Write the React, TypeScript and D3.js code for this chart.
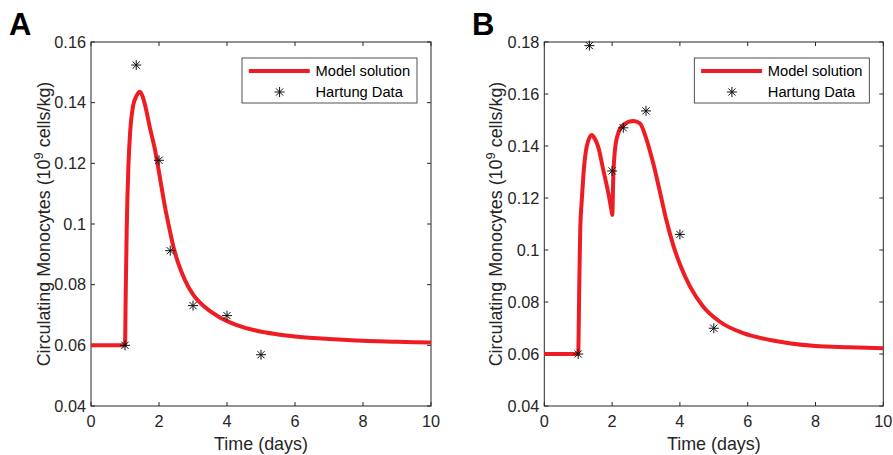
import React from "react";
import * as d3 from "d3";

// ---------- data ----------
const xTicks = [0, 2, 4, 6, 8, 10];
const yTicksA = [0.04, 0.06, 0.08, 0.1, 0.12, 0.14, 0.16];
const yTicksB = [0.04, 0.06, 0.08, 0.1, 0.12, 0.14, 0.16, 0.18];

const modelTimeA = [0, 1.0, 1.02, 1.05, 1.1, 1.15, 1.24, 1.34, 1.44, 1.52, 1.59, 1.735, 1.88, 1.98, 2.08, 2.18, 2.3, 2.42, 2.57, 2.76, 3.01, 3.35, 3.79, 4.29, 4.87, 5.5, 6.0, 7.0, 8.0, 9.0, 10];
const modelValueA = [0.06, 0.06, 0.076, 0.098, 0.119, 0.13, 0.139, 0.1422, 0.1436, 0.142, 0.1392, 0.1316, 0.1246, 0.1184, 0.1118, 0.1054, 0.0988, 0.0927, 0.0869, 0.0816, 0.0766, 0.0726, 0.0692, 0.0667, 0.0648, 0.0636, 0.0629, 0.0621, 0.0615, 0.0612, 0.0609];

const modelTimeB = [0, 1.0, 1.03, 1.06, 1.1, 1.15, 1.25, 1.4, 1.5, 1.59, 1.74, 1.89, 1.97, 2.005, 2.035, 2.085, 2.18, 2.33, 2.63, 2.82, 3.02, 3.2, 3.4, 3.6, 3.8, 4.0, 4.3, 4.69, 5.18, 5.87, 6.66, 8.0, 9.0, 10];
const modelValueB = [0.06, 0.06, 0.085, 0.1077, 0.118, 0.1282, 0.1397, 0.1442, 0.1425, 0.1397, 0.1308, 0.1218, 0.1162, 0.1135, 0.1282, 0.1385, 0.1449, 0.1481, 0.1496, 0.1487, 0.1423, 0.134, 0.123, 0.1115, 0.102, 0.0945, 0.0859, 0.0782, 0.0724, 0.068, 0.0654, 0.0631, 0.0626, 0.0622];

const dataTimeA = [1, 1.33, 2, 2.33, 3, 4, 5];
const dataValueA = [0.06, 0.1524, 0.121, 0.0912, 0.0731, 0.0698, 0.0569];
const dataTimeB = [1, 1.33, 2, 2.33, 3, 4, 5];
const dataValueB = [0.06, 0.1786, 0.1304, 0.147, 0.1535, 0.106, 0.0699];

const legendLabels = ["Model solution", "Hartung Data"];
const xLabel = "Time (days)";

// ---------- styles ----------
const FONT = "'Liberation Sans', Arial, Helvetica, sans-serif";
const AXIS_COLOR = "#262626";
const RED = "#ee1d23";

function Asterisk({ cx, cy }: { cx: number; cy: number }) {
  const r = 5;
  const d = 3.6;
  return (
    <g stroke="#111" strokeWidth={1} fill="none">
      <line x1={cx - r} y1={cy} x2={cx + r} y2={cy} />
      <line x1={cx} y1={cy - r} x2={cx} y2={cy + r} />
      <line x1={cx - d} y1={cy - d} x2={cx + d} y2={cy + d} />
      <line x1={cx - d} y1={cy + d} x2={cx + d} y2={cy - d} />
    </g>
  );
}

type PanelProps = {
  left: number;
  right: number;
  top: number;
  bottom: number;
  yDomain: [number, number];
  yTicks: number[];
  mt: number[];
  mv: number[];
  dt: number[];
  dv: number[];
  letter: string;
  letterX: number;
  ylabelX: number;
};

function Panel(p: PanelProps) {
  const x = d3.scaleLinear().domain([0, 10]).range([p.left, p.right]);
  const y = d3.scaleLinear().domain(p.yDomain).range([p.bottom, p.top]);
  const line = d3
    .line<number>()
    .x((_, i) => x(p.mt[i]))
    .y((v) => y(v))
    .curve(d3.curveMonotoneX);
  const fmt = (v: number) => String(+v.toFixed(2));
  const tl = 4;
  const lgRight = p.right - 14;
  const lgLeft = lgRight - 175;
  const lgTop = 58;
  const lgBottom = 103;
  const cy = (p.top + p.bottom) / 2;
  return (
    <g>
      <rect x={p.left} y={p.top} width={p.right - p.left} height={p.bottom - p.top} fill="none" stroke={AXIS_COLOR} strokeWidth={1} />
      {xTicks.map((t) => (
        <g key={"x" + t}>
          <line x1={x(t)} x2={x(t)} y1={p.bottom} y2={p.bottom - tl} stroke={AXIS_COLOR} />
          <line x1={x(t)} x2={x(t)} y1={p.top} y2={p.top + tl} stroke={AXIS_COLOR} />
          <text x={x(t)} y={p.bottom + 21} textAnchor="middle" fontSize={16.3} fill={AXIS_COLOR} fontFamily={FONT}>
            {t}
          </text>
        </g>
      ))}
      {p.yTicks.map((t) => (
        <g key={"y" + t}>
          <line x1={p.left} x2={p.left + tl} y1={y(t)} y2={y(t)} stroke={AXIS_COLOR} />
          <line x1={p.right} x2={p.right - tl} y1={y(t)} y2={y(t)} stroke={AXIS_COLOR} />
          <text x={p.left - 5} y={y(t) + 5.8} textAnchor="end" fontSize={16.3} fill={AXIS_COLOR} fontFamily={FONT}>
            {fmt(t)}
          </text>
        </g>
      ))}
      <path d={line(p.mv) || ""} fill="none" stroke={RED} strokeWidth={4} strokeLinejoin="round" />
      {p.dt.map((t, i) => (
        <Asterisk key={"d" + i} cx={x(t)} cy={y(p.dv[i])} />
      ))}
      <text x={(p.left + p.right) / 2} y={p.bottom + 44} textAnchor="middle" fontSize={17.9} fill={AXIS_COLOR} fontFamily={FONT}>
        {xLabel}
      </text>
      <text transform={`translate(${p.ylabelX},${cy}) rotate(-90)`} textAnchor="middle" fontSize={17.9} fill={AXIS_COLOR} fontFamily={FONT}>
        Circulating Monocytes (10
        <tspan dy={-7} fontSize={13}>9</tspan>
        <tspan dy={7}> cells/kg)</tspan>
      </text>
      <rect x={lgLeft} y={lgTop} width={lgRight - lgLeft} height={lgBottom - lgTop} fill="#fff" stroke={AXIS_COLOR} strokeWidth={0.8} />
      <line x1={lgLeft + 6.8} x2={lgLeft + 67.8} y1={lgTop + 13} y2={lgTop + 13} stroke={RED} strokeWidth={4} />
      <text x={lgLeft + 73.5} y={lgTop + 18.3} fontSize={14.7} fill="#000" fontFamily={FONT}>
        {legendLabels[0]}
      </text>
      <Asterisk cx={lgLeft + 37.6} cy={lgTop + 34} />
      <text x={lgLeft + 73.5} y={lgTop + 39.3} fontSize={14.7} fill="#000" fontFamily={FONT}>
        {legendLabels[1]}
      </text>
      <text x={p.letterX} y={35} fontSize={31} fontWeight="bold" fill="#000" fontFamily={FONT}>
        {p.letter}
      </text>
    </g>
  );
}

export default function App() {
  return (
    <svg width={893} height={455} style={{ position: "absolute", left: 0, top: 0, background: "#fff" }}>
      <rect width={893} height={455} fill="#fff" />
      <Panel left={91} right={431} top={42} bottom={406} yDomain={[0.04, 0.16]} yTicks={yTicksA} mt={modelTimeA} mv={modelValueA} dt={dataTimeA} dv={dataValueA} letter="A" letterX={9} ylabelX={49.5} />
      <Panel left={544.3} right={883.3} top={42} bottom={406} yDomain={[0.04, 0.18]} yTicks={yTicksB} mt={modelTimeB} mv={modelValueB} dt={dataTimeB} dv={dataValueB} letter="B" letterX={472} ylabelX={502} />
    </svg>
  );
}
